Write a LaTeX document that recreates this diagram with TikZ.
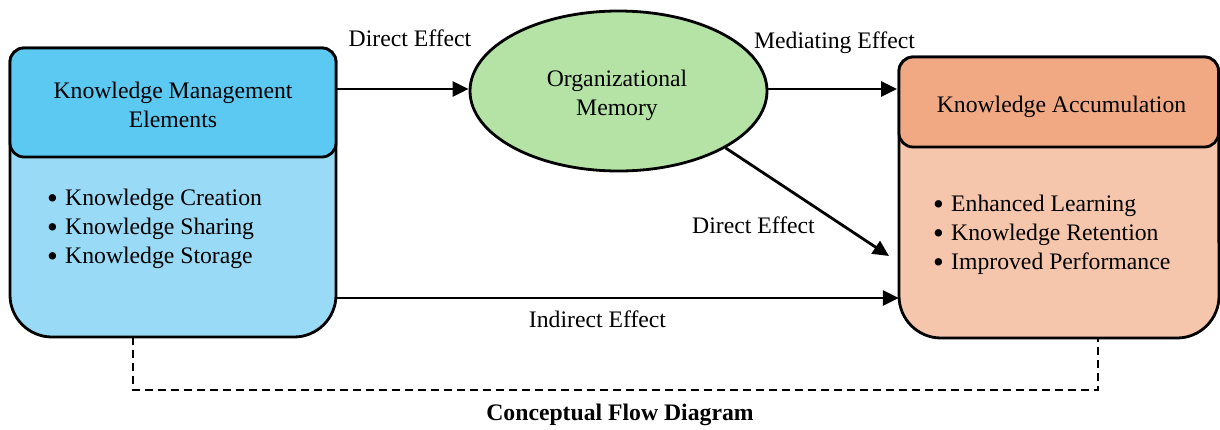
\documentclass[tikz,border=0pt]{standalone}
\usepackage{fontspec}
\setmainfont{Liberation Serif}
\usetikzlibrary{arrows.meta,shapes.geometric,calc}
\definecolor{kmhead}{HTML}{5CC9F2}
\definecolor{kmbody}{HTML}{99DBF7}
\definecolor{omfill}{HTML}{B4E3A5}
\definecolor{kahead}{HTML}{F0A983}
\definecolor{kabody}{HTML}{F5C6AB}
\newcommand{\bul}{\makebox[18pt][l]{\raisebox{-2.5pt}{\scalebox{1.3}{\textbullet}}}}
\tikzset{
  txt/.style={font=\fontsize{23.7}{29}\selectfont, inner sep=0pt},
  outline/.style={draw=black, line width=2.8pt},
  arr/.style={draw=black, line width=2.8pt, -{Triangle[length=16pt,width=15pt]}},
  dashline/.style={draw=black, line width=2.8pt, dash pattern=on 8pt off 5pt},
  ghost/.style={rectangle, inner sep=0pt, draw=none},
}
\begin{document}
\begin{tikzpicture}[x=1pt,y=-1pt]
\useasboundingbox (0,0) rectangle (1220,429);

% ---- Knowledge Management Elements box
\node[ghost, minimum width=326pt, minimum height=289pt] (kme) at (173,192.5) {};
\path[outline, fill=kmbody] (10,62) -- (10,295)
  arc[start angle=180, end angle=270, radius=42pt] -- (294,337)
  arc[start angle=270, end angle=360, radius=42pt] -- (336,62)
  arc[start angle=0, end angle=90, radius=14pt] -- (24,48)
  arc[start angle=90, end angle=180, radius=14pt] -- cycle;
\path[outline, fill=kmhead] (10,62) -- (10,143)
  arc[start angle=180, end angle=270, radius=14pt] -- (322,157)
  arc[start angle=270, end angle=360, radius=14pt] -- (336,62)
  arc[start angle=0, end angle=90, radius=14pt] -- (24,48)
  arc[start angle=90, end angle=180, radius=14pt] -- cycle;
\node[txt, align=center] (kmet) at (173,105) {Knowledge Management\\Elements};
\node[txt, align=left, anchor=west] (kmel) at (47,229)
  {\bul Knowledge Creation\\
   \bul Knowledge Sharing\\
   \bul Knowledge Storage};

% ---- Knowledge Accumulation box
\node[ghost, minimum width=320pt, minimum height=281pt] (ka) at (1059,197.5) {};
\path[outline, fill=kabody] (899,71) -- (899,296)
  arc[start angle=180, end angle=270, radius=42pt] -- (1177,338)
  arc[start angle=270, end angle=360, radius=42pt] -- (1218.5,71)
  arc[start angle=0, end angle=90, radius=14pt] -- (913,57)
  arc[start angle=90, end angle=180, radius=14pt] -- cycle;
\path[outline, fill=kahead] (899,71) -- (899,133)
  arc[start angle=180, end angle=270, radius=14pt] -- (1204.5,147)
  arc[start angle=270, end angle=360, radius=14pt] -- (1218.5,71)
  arc[start angle=0, end angle=90, radius=14pt] -- (913,57)
  arc[start angle=90, end angle=180, radius=14pt] -- cycle;
\node[txt] (kat) at (1061.5,107) {Knowledge Accumulation};
\node[txt, align=left, anchor=west] (kal) at (933,235)
  {\bul Enhanced Learning\\
   \bul Knowledge Retention\\
   \bul Improved Performance};

% ---- Organizational Memory ellipse
\node[ellipse, outline, fill=omfill, minimum width=297pt, minimum height=160pt, inner sep=0pt] (om) at (618.5,91) {};
\node[txt, align=center] (omt) at (617,95.5) {Organizational\\Memory};

% ---- connectors
\coordinate (m1) at ([yshift=2pt]om.west);
\coordinate (m2) at ([yshift=2pt]om.east);
\coordinate (m2e) at (897,89);
\coordinate (d3) at (889,256);
\coordinate (iy) at (0,298);
\coordinate (dl) at (133,390);
\coordinate (dr) at (1098,390);

\draw[arr] (kme.east |- m1) -- (m1);
\draw[arr] (m2) -- (m2e);
\draw[arr] (om.-28) -- (d3);
\draw[arr] (kme.east |- iy) -- (ka.west |- iy);
\draw[dashline] (dl |- kme.south) -- (dl) -- (dr) -- (dr |- ka.south);

% ---- labels
\node[txt, anchor=base] (l1) at (410,46.7) {Direct Effect};
\node[txt, anchor=base] (l2) at (834.5,48) {Mediating Effect};
\node[txt, anchor=base] (l3) at (753.5,233) {Direct Effect};
\node[txt, anchor=base] (l4) at (597.5,327) {Indirect Effect};
\node[txt, anchor=base, font=\fontsize{23.7}{29}\selectfont\bfseries] (title) at (620,420) {Conceptual Flow Diagram};
\end{tikzpicture}
\end{document}
